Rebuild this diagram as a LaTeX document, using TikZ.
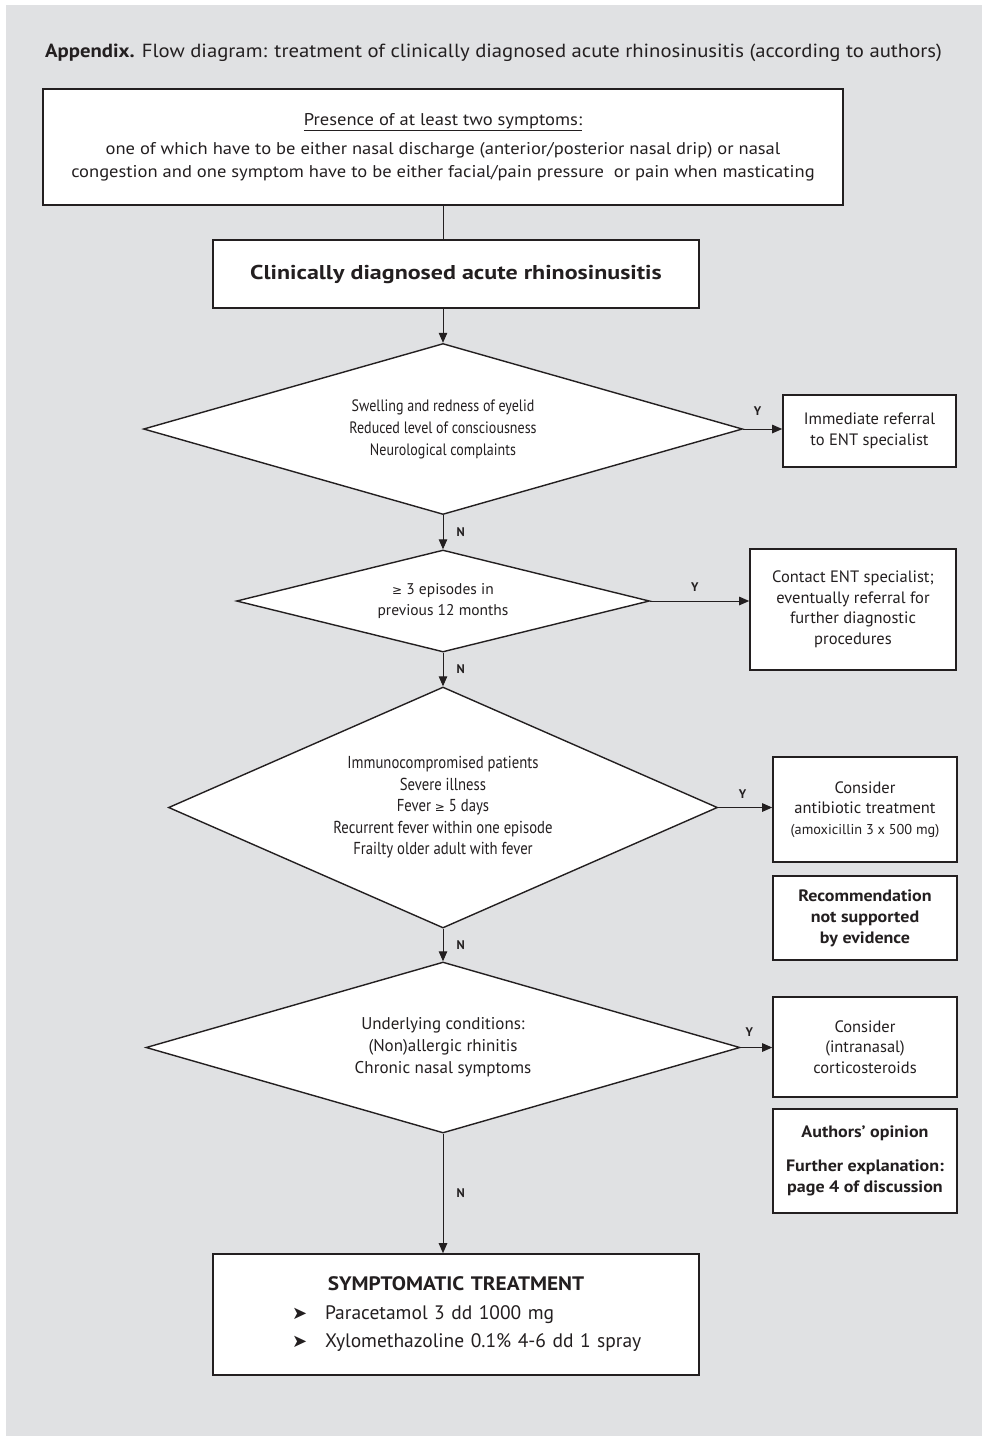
\documentclass[tikz,border=0pt]{standalone}
\usepackage{fontspec}
\setmainfont{PT Sans}
\newfontfamily\narrowfont[FakeStretch=0.85]{PT Sans}
\newfontfamily\widefont[FakeStretch=1.09]{PT Sans}
\newfontfamily\heavyfont[FakeStretch=1.2]{PT Sans Bold}
\newfontfamily\symfont{DejaVu Sans}
\usetikzlibrary{shapes.geometric,arrows.meta}
\definecolor{panel}{RGB}{224,225,227}
\definecolor{ink}{RGB}{35,31,32}
\newcommand{\bullettip}{{\symfont\fontsize{18}{18}\selectfont ➤}}
\newcommand{\geqsym}{{\symfont\fontsize{12}{12}\selectfont ≥}}

\begin{document}
\begin{tikzpicture}[x=1pt,y=-1pt,
  box/.style={draw=ink, line width=1.6pt, fill=white, inner sep=0pt, align=center, text=ink},
  dec/.style={diamond, draw=ink, line width=1.4pt, fill=white, inner sep=0pt, align=center, text=ink},
  link/.style={draw=ink, line width=1pt},
  arr/.style={link, -{Triangle[length=10pt,width=8.5pt]}},
  yn/.style={font=\fontsize{12.5}{12.5}\selectfont\bfseries, text=ink, inner sep=0pt},
  body/.style={font=\fontsize{16.5}{20.5}\selectfont},
  narrow/.style={font=\narrowfont\fontsize{16.5}{22}\selectfont},
  strong/.style={font=\widefont\fontsize{16.5}{21}\selectfont\bfseries}
]
\useasboundingbox (0,0) rectangle (982,1436);
\fill[panel] (6,5) rectangle (982,1436);

% heading line
\node[anchor=base west, inner sep=0pt, text=ink, font=\widefont\fontsize{19}{22}\selectfont] (title) at (45,57)
  {\textbf{Appendix.} Flow diagram: treatment of clinically diagnosed acute rhinosinusitis (according to authors)};

% entry criteria and diagnosis
\node[box, minimum width=800pt, minimum height=116pt, font=\widefont\fontsize{17}{23}\selectfont] (crit) at (443,147)
  {\underline{Presence of at least two symptoms:}\\[6pt]
   one of which have to be either nasal discharge (anterior/posterior nasal drip) or nasal\\
   congestion and one symptom have to be either facial/pain pressure~ or pain when masticating};
\node[box, minimum width=486pt, minimum height=68pt, font=\heavyfont\fontsize{20}{24}\selectfont] (dx) at (456,274)
  {Clinically diagnosed acute rhinosinusitis};

% decisions
\node[dec, narrow, aspect=3.503, minimum width=599pt, minimum height=171pt] (d1) at (443,429)
  {Swelling and redness of eyelid\\Reduced level of consciousness\\Neurological complaints};
\node[dec, font=\fontsize{15.5}{21}\selectfont, aspect=4.049, minimum width=413pt, minimum height=102pt] (d2) at (443,601)
  {\geqsym\ 3 episodes in\\previous 12 months};
\node[dec, font=\narrowfont\fontsize{17.3}{21.5}\selectfont, aspect=2.278, minimum width=549pt, minimum height=241pt] (d3) at (443,807.5)
  {Immunocompromised patients\\Severe illness\\Fever \geqsym\ 5 days\\Recurrent fever within one episode\\Frailty older adult with fever};
\node[dec, font=\fontsize{17}{22}\selectfont, aspect=3.474, minimum width=594pt, minimum height=171pt] (d4) at (443,1047.5)
  {Underlying conditions:\\(Non)allergic rhinitis\\Chronic nasal symptoms};

% actions on the right
\node[box, body, minimum width=173pt, minimum height=72pt] (ref1) at (869.5,431)
  {Immediate referral\\to ENT specialist};
\node[box, body, minimum width=206pt, minimum height=121pt] (ref2) at (853,609.5)
  {Contact ENT specialist;\\eventually referral for\\further diagnostic\\procedures};
\node[box, body, minimum width=184pt, minimum height=105pt] (abx) at (865,809.5)
  {Consider\\antibiotic treatment\\{\fontsize{14.3}{16}\selectfont(amoxicillin 3 x 500 mg)}};
\node[box, strong, minimum width=184pt, minimum height=84pt] (evid) at (865,918)
  {Recommendation\\not supported\\by evidence};
\node[box, body, minimum width=184pt, minimum height=100pt] (cort) at (865,1047)
  {Consider\\(intranasal)\\corticosteroids};
\node[box, strong, minimum width=184pt, minimum height=104pt] (auth) at (865,1161)
  {Authors’ opinion\\[13pt]Further explanation:\\page 4 of discussion};

% final step
\node[box, minimum width=486pt, minimum height=121pt, text width=486pt, align=left,
      font=\fontsize{19.5}{28.5}\selectfont] (treat) at (456,1314.5)
  {{\centering\widefont\bfseries SYMPTOMATIC TREATMENT\par}
   \hspace*{79pt}\makebox[33pt][l]{\bullettip}Paracetamol 3 dd 1000 mg\\
   \hspace*{79pt}\makebox[33pt][l]{\bullettip}Xylomethazoline 0.1\% 4-6 dd 1 spray};

% connectors down the main column
\draw[link] (crit.south -| d1.north) -- (dx.north -| d1.north);
\draw[arr] (dx.south -| d1.north) -- (d1.north);
\draw[arr] (d1.south) -- node[yn, right=13pt] {N} (d2.north);
\draw[arr] (d2.south) -- node[yn, right=13pt] {N} (d3.north);
\draw[arr] (d3.south) -- node[yn, right=13pt] {N} (d4.north);
\draw[arr] (d4.south) -- node[yn, right=13pt] {N} (treat.north -| d4.south);

% yes branches
\draw[arr] (d1.east) -- node[yn, pos=0.37, above=13pt] {Y} (d1.east -| ref1.west);
\draw[arr] (d2.east) -- node[yn, pos=0.45, above=9pt] {Y} (d2.east -| ref2.west);
\draw[arr] (d3.east) -- node[yn, pos=0.45, above=9pt] {Y} (d3.east -| abx.west);
\draw[arr] (d4.east) -- node[yn, pos=0.27, above=11pt] {Y} (d4.east -| cort.west);
\end{tikzpicture}
\end{document}
